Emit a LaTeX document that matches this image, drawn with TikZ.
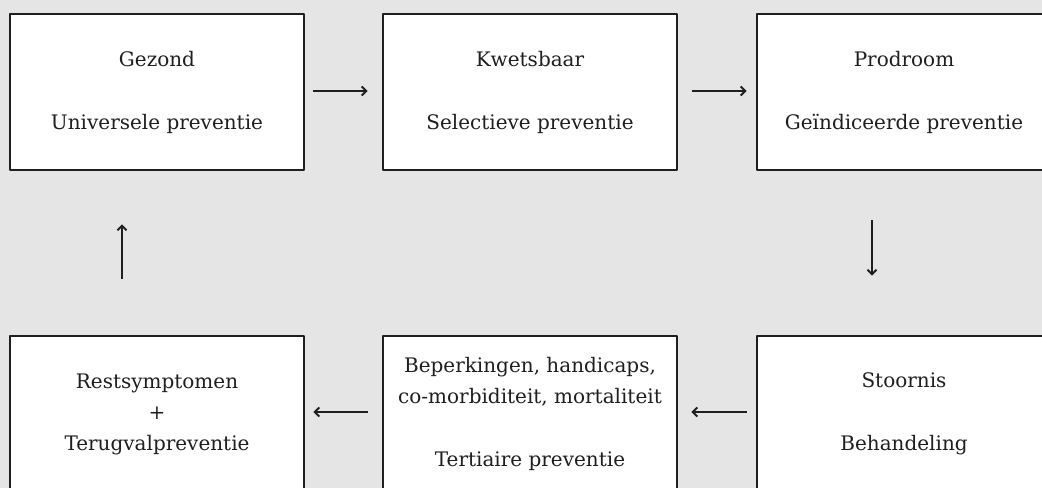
\documentclass[tikz,border=0pt]{standalone}
\usepackage{fontspec}
\setmainfont{DejaVu Serif}
\usetikzlibrary{arrows,positioning,shapes,calc}
\usetikzlibrary{shapes.geometric,arrows.meta}
\definecolor{inkcol}{rgb}{0.12,0.12,0.12}
\definecolor{backcol}{rgb}{0.9,0.9,0.9}

\begin{document}
\begin{tikzpicture}[>={Straight Barb[length=4.5bp,width=9bp]},line join=bevel,
  stage/.style={draw=inkcol,fill=white,line width=2.8bp,minimum width=294bp,
    minimum height=156bp,align=center,text=inkcol,
    font=\fontsize{20bp}{31bp}\selectfont},
  flow/.style={->,draw=inkcol,line width=2bp}]
  \useasboundingbox (0bp,0bp) rectangle (1042bp,488bp);
  \clip (0bp,0bp) rectangle (1042bp,488bp);
  \fill[backcol] (0bp,0bp) rectangle (1042bp,488bp);
%%
  % Node: Gezond
  \node[stage] (gezond) at (157bp,396bp) {Gezond\\[32bp]Universele preventie};
  % Node: Kwetsbaar
  \node[stage] (kwetsbaar) at (530bp,396bp) {Kwetsbaar\\[32bp]Selectieve preventie};
  % Node: Prodroom
  \node[stage] (prodroom) at (904bp,396bp) {Prodroom\\[32bp]Geïndiceerde preventie};
  % Node: Stoornis
  \node[stage] (stoornis) at (904bp,74bp) {Stoornis\\[32bp]Behandeling};
  % Node: Tertiair
  \node[stage] (tertiair) at (530bp,74bp) {Beperkingen, handicaps,\\co-morbiditeit, mortaliteit\\[32bp]Tertiaire preventie};
  % Node: Rest
  \node[stage] (rest) at (157bp,74bp) {Restsymptomen\\+\\Terugvalpreventie};
%%
  % Edge: Gezond -> Kwetsbaar
  \draw[flow,shorten <=8bp,shorten >=14bp] ([yshift=1bp]gezond.east) -- ([yshift=1bp]kwetsbaar.west);
  % Edge: Kwetsbaar -> Prodroom
  \draw[flow,shorten <=14bp,shorten >=9bp] ([yshift=1bp]kwetsbaar.east) -- ([yshift=1bp]prodroom.west);
  % Edge: Prodroom -> Stoornis
  \draw[flow,shorten <=49bp,shorten >=59bp] ([xshift=-32bp]prodroom.south) -- ([xshift=-32bp]stoornis.north);
  % Edge: Stoornis -> Tertiair
  \draw[flow,shorten <=9bp,shorten >=13bp] ([yshift=2bp]stoornis.west) -- ([yshift=2bp]tertiair.east);
  % Edge: Tertiair -> Rest
  \draw[flow,shorten <=14bp,shorten >=8bp] ([yshift=2bp]tertiair.west) -- ([yshift=2bp]rest.east);
  % Edge: Rest -> Gezond
  \draw[flow,shorten <=56bp,shorten >=53bp] ([xshift=-35bp]rest.north) -- ([xshift=-35bp]gezond.south);
%
\end{tikzpicture}
\end{document}
